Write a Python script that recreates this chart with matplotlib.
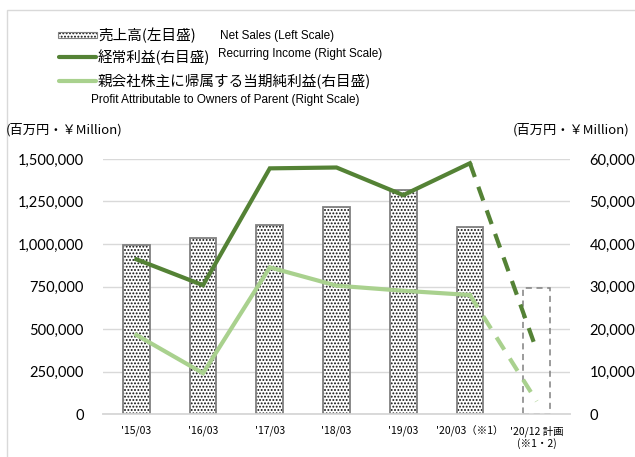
import matplotlib
matplotlib.use("Agg")
import matplotlib.pyplot as plt
from matplotlib.patches import Rectangle
from matplotlib.lines import Line2D
import numpy as np

plt.rcParams['font.family'] = ['Noto Sans CJK JP', 'DejaVu Sans']
plt.rcParams['hatch.linewidth'] = 0.9

# data
categories = ["'15/03", "'16/03", "'17/03", "'18/03", "'19/03", "'20/03（※1）", "'20/12 計画\n(※1・2)"]
net_sales = [995000, 1037000, 1110000, 1220000, 1315000, 1102000]
net_sales_plan = 740000
recurring = [36400, 30300, 57800, 58000, 51500, 59000, 15000]
profit = [18600, 9600, 34500, 30200, 29000, 28000, 3000]
left_ticks = [0, 250000, 500000, 750000, 1000000, 1250000, 1500000]
right_ticks = [0, 10000, 20000, 30000, 40000, 50000, 60000]

dark = '#548235'
light = '#A9D18E'
grid = '#D9D9D9'
W, H = 635, 457

fig = plt.figure(figsize=(W / 100, H / 100), dpi=100)
ax = fig.add_axes([103 / W, 1 - 414 / H, 467 / W, 255 / H])
ax2 = ax.twinx()

x = np.arange(len(categories))
xs = x[:len(net_sales)]

# bars: dotted fill + grey outline
ax.bar(xs, net_sales, width=0.4, color='white', edgecolor='#111111', hatch='.....', linewidth=0, zorder=2)
ax.bar(xs, net_sales, width=0.4, fill=False, edgecolor='#808080', linewidth=1.3, zorder=3)
ax.bar(x[-1], net_sales_plan, width=0.4, fill=False, edgecolor='#808080', linewidth=1.1,
       linestyle=(0, (4, 3)), zorder=3)

ax.set_ylim(0, 1500000)
ax.set_xlim(-0.5, len(categories) - 0.5)
ax.set_yticks(left_ticks)
ax.set_yticklabels([f"{v:,}" for v in left_ticks], family='Lato', fontsize=10.5)
ax.yaxis.grid(True, color=grid, linewidth=1)
ax.set_axisbelow(True)
ax.set_xticks(x)
ax.set_xticklabels(categories, fontsize=7.5)
ax.tick_params(axis='both', length=0)
ax.tick_params(axis='y', pad=14)
ax.tick_params(axis='x', pad=8)

# lines on right scale
ax2.plot(x[:-1], recurring[:-1], color=dark, lw=3, solid_joinstyle='miter', zorder=4)
ax2.plot(x[-2:], recurring[-2:], color=dark, lw=3, linestyle=(0, (3.5, 2.5)), zorder=4)
ax2.plot(x[:-1], profit[:-1], color=light, lw=3, solid_joinstyle='miter', zorder=4)
ax2.plot(x[-2:], profit[-2:], color=light, lw=3, linestyle=(0, (3.5, 2.5)), zorder=4)
ax2.set_ylim(0, 60000)
ax2.set_yticks(right_ticks)
ax2.set_yticklabels([f"{v:,}" for v in right_ticks], family='Lato', fontsize=10.5)
ax2.tick_params(axis='y', length=0, pad=14)

for a in (ax, ax2):
    for s in ('top', 'left', 'right'):
        a.spines[s].set_visible(False)
    a.spines['bottom'].set_color(grid)
    a.spines['bottom'].set_linewidth(1.2)

# unit labels
fig.text(6 / W, 1 - 130 / H, '(百万円・￥Million)', fontsize=9.5, va='center', ha='left')
fig.text(629 / W, 1 - 130 / H, '(百万円・￥Million)', fontsize=9.5, va='center', ha='right')

# legend drawn by hand
def fx(px):
    return px / W

def fy(py):
    return 1 - py / H

fig.patches.append(Rectangle((fx(58), fy(38)), 39 / W, 6 / H, transform=fig.transFigure,
                             facecolor='white', edgecolor='#111111', hatch='.....', linewidth=0))
fig.patches.append(Rectangle((fx(58), fy(38)), 39 / W, 6 / H, transform=fig.transFigure,
                             fill=False, edgecolor='#808080', linewidth=0.8))
fig.lines.append(Line2D([fx(59), fx(96)], [fy(57), fy(57)], transform=fig.transFigure,
                        color=dark, lw=3, solid_capstyle='round'))
fig.lines.append(Line2D([fx(59), fx(96)], [fy(81), fy(81)], transform=fig.transFigure,
                        color=light, lw=3, solid_capstyle='round'))
fig.text(fx(98), fy(35), '売上高(左目盛)', fontsize=10.5, va='center')
fig.text(fx(98), fy(57), '経常利益(右目盛)', fontsize=10.5, va='center')
fig.text(fx(98), fy(81), '親会社株主に帰属する当期純利益(右目盛)', fontsize=10.5, va='center')
fig.text(fx(220), fy(36), 'Net Sales (Left Scale)', family='Liberation Sans', fontsize=8.5, va='center')
fig.text(fx(218), fy(54), 'Recurring Income (Right Scale)', family='Liberation Sans', fontsize=8.5, va='center')
fig.text(fx(91), fy(100), 'Profit Attributable to Owners of Parent (Right Scale)', family='Liberation Sans',
         fontsize=8.5, va='center')

# chart-area border
fig.patches.append(Rectangle((fx(7), fy(H + 20)), (W + 20) / W, (H + 10) / H, transform=fig.transFigure,
                             fill=False, edgecolor='#D9D9D9', linewidth=1))

fig.savefig('out.png', dpi=100)
